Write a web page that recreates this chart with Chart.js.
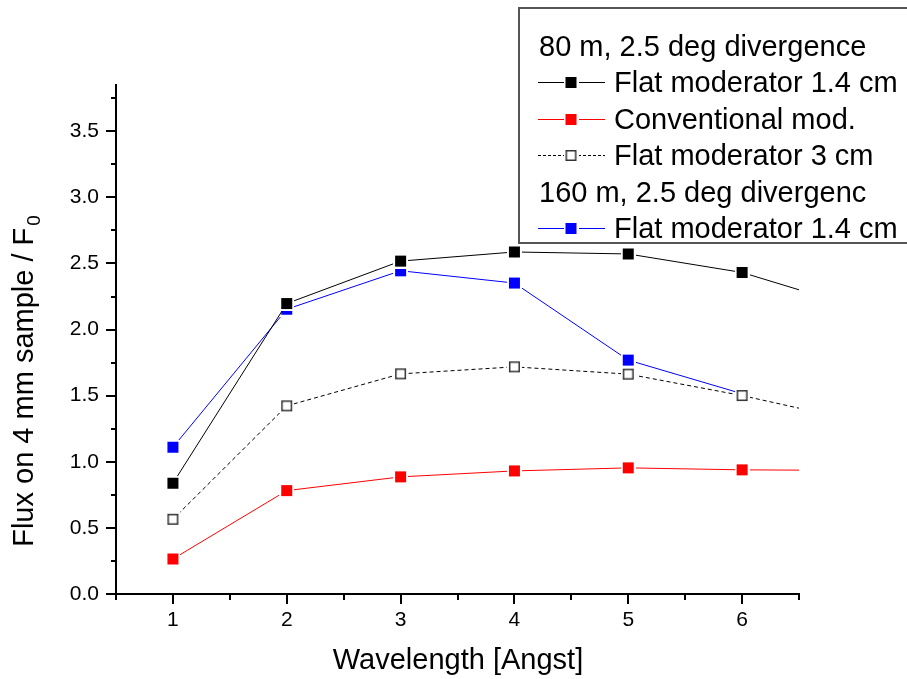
<!DOCTYPE html>
<html>
<head>
<meta charset="utf-8">
<script src="https://cdn.jsdelivr.net/npm/chart.js@4/dist/chart.umd.min.js"></script>
<style>
  body { margin: 0; background: #fff; }
</style>
</head>
<body>
<canvas id="fluxChart" width="907" height="679"></canvas>
<script>
// wavelength points (last one lies beyond the axis and gets clipped)
const wavelength = [1, 2, 3, 4, 5, 6, 7];
const flat14_80 = [0.838, 2.197, 2.518, 2.587, 2.572, 2.432, 2.17];
const conventional = [0.265, 0.782, 0.886, 0.931, 0.954, 0.939, 0.935];
const flat3_80 = [0.565, 1.423, 1.665, 1.718, 1.663, 1.501, 1.31];
const flat14_160 = [1.110, 2.154, 2.445, 2.352, 1.769, 1.515];

const xTicks = [1, 2, 3, 4, 5, 6];
const xMinor = [0.5, 1.5, 2.5, 3.5, 4.5, 5.5, 6.5];
const yTicks = [0, 0.5, 1.0, 1.5, 2.0, 2.5, 3.0, 3.5];
const yMinor = [0.25, 0.75, 1.25, 1.75, 2.25, 2.75, 3.25, 3.75];

const FONT = 'Liberation Sans, Arial, sans-serif';

function makeMarker(color, hollow) {
    const c = document.createElement('canvas');
    c.width = 15; c.height = 15;
    const g = c.getContext('2d');
    g.fillStyle = '#fff';
    g.fillRect(0, 0, 15, 15);
    if (hollow) {
        g.strokeStyle = '#333';
        g.lineWidth = 1.5;
        g.strokeRect(2.75, 2.75, 9.5, 9.5);
    } else {
        g.fillStyle = color;
        g.fillRect(2, 2, 11, 11);
    }
    return c;
}

const mkBlack = makeMarker('#000', false);
const mkRed = makeMarker('#ff0000', false);
const mkHollow = makeMarker('#333', true);
const mkBlue = makeMarker('#0000ff', false);

function pts(ys) {
    return ys.map((v, i) => ({ x: wavelength[i], y: v }));
}

const legendRows = [
    { text: '80 m, 2.5 deg divergence' },
    { text: 'Flat moderator 1.4 cm', color: '#000', marker: mkBlack },
    { text: 'Conventional mod.', color: '#ff0000', marker: mkRed },
    { text: 'Flat moderator 3 cm', color: '#000', marker: mkHollow, dash: [3, 2] },
    { text: '160 m, 2.5 deg divergenc' },
    { text: 'Flat moderator 1.4 cm', color: '#0000ff', marker: mkBlue }
];

const extras = {
    id: 'extras',
    afterDraw(chart) {
        const ctx = chart.ctx;
        const xs = chart.scales.x, ys = chart.scales.y;
        const area = chart.chartArea;
        ctx.save();
        // minor ticks
        ctx.strokeStyle = '#000';
        ctx.lineWidth = 2;
        ctx.beginPath();
        yMinor.forEach(v => {
            const p = Math.round(ys.getPixelForValue(v));
            ctx.moveTo(area.left, p);
            ctx.lineTo(area.left - 5, p);
        });
        xMinor.forEach(v => {
            const p = Math.round(xs.getPixelForValue(v));
            ctx.moveTo(p, area.bottom);
            ctx.lineTo(p, area.bottom + 6);
        });
        ctx.stroke();

        // axis titles
        ctx.fillStyle = '#000';
        ctx.font = '29px ' + FONT;
        ctx.textAlign = 'center';
        ctx.textBaseline = 'alphabetic';
        ctx.fillText('Wavelength [Angst]', 458, 669);

        ctx.save();
        ctx.translate(33, 381);
        ctx.rotate(-Math.PI / 2);
        const main = 'Flux on 4 mm sample / F';
        const w = ctx.measureText(main).width;
        ctx.font = '19px ' + FONT;
        const ws = ctx.measureText('0').width;
        const start = -(w + ws + 2) / 2;
        ctx.font = '29px ' + FONT;
        ctx.textAlign = 'left';
        ctx.fillText(main, start, 0);
        ctx.font = '19px ' + FONT;
        ctx.fillText('0', start + w + 2, 7);
        ctx.restore();

        // legend box
        ctx.fillStyle = '#fff';
        ctx.fillRect(519, 8, 400, 235);
        ctx.strokeStyle = '#555';
        ctx.lineWidth = 2;
        ctx.strokeRect(519, 8, 400, 235);
        ctx.font = '29px ' + FONT;
        ctx.textAlign = 'left';
        legendRows.forEach((r, i) => {
            const cy = 46 + i * 36.4;
            ctx.fillStyle = '#000';
            if (!r.marker) {
                ctx.fillText(r.text, 539, cy + 10);
                return;
            }
            ctx.strokeStyle = r.color;
            ctx.lineWidth = 1;
            ctx.setLineDash(r.dash || []);
            ctx.beginPath();
            ctx.moveTo(538, Math.round(cy) + 0.5);
            ctx.lineTo(605, Math.round(cy) + 0.5);
            ctx.stroke();
            ctx.setLineDash([]);
            ctx.drawImage(r.marker, 571 - 7.5, Math.round(cy) - 7);
            ctx.fillText(r.text, 614, cy + 10);
        });
        ctx.restore();
    }
};

new Chart(document.getElementById('fluxChart'), {
    type: 'line',
    data: {
        datasets: [
            { label: 'Flat moderator 1.4 cm', data: pts(flat14_80), borderColor: '#000', pointStyle: mkBlack, order: 0 },
            { label: 'Flat moderator 3 cm', data: pts(flat3_80), borderColor: '#000', borderDash: [4, 3], pointStyle: mkHollow, order: 1 },
            { label: 'Conventional mod.', data: pts(conventional), borderColor: '#ff0000', pointStyle: mkRed, order: 2 },
            { label: 'Flat moderator 1.4 cm (160 m)', data: pts(flat14_160), borderColor: '#0000ff', pointStyle: mkBlue, order: 3 }
        ]
    },
    options: {
        responsive: false,
        animation: false,
        layout: { padding: { top: 85, right: 108, left: 0, bottom: 0 } },
        elements: {
            line: { borderWidth: 1, tension: 0, fill: false },
            point: { radius: 7 }
        },
        plugins: { legend: { display: false }, tooltip: { enabled: false } },
        scales: {
            x: {
                type: 'linear',
                min: 0.5,
                max: 6.5,
                afterBuildTicks: s => { s.ticks = xTicks.map(v => ({ value: v })); },
                afterFit: s => { s.height = 85; },
                grid: { drawOnChartArea: false, drawTicks: true, tickLength: 10, color: '#000', lineWidth: 2 },
                border: { display: true, color: '#000', width: 2 },
                ticks: { color: '#000', font: { family: FONT, size: 21 }, padding: 4, maxRotation: 0,
                         callback: v => String(v) }
            },
            y: {
                type: 'linear',
                min: 0,
                max: 3.85,
                afterBuildTicks: s => { s.ticks = yTicks.map(v => ({ value: v })); },
                afterFit: s => { s.width = 116; },
                grid: { drawOnChartArea: false, drawTicks: true, tickLength: 10, color: '#000', lineWidth: 2 },
                border: { display: true, color: '#000', width: 2 },
                ticks: { color: '#000', font: { family: FONT, size: 21 }, padding: 7,
                         callback: v => v.toFixed(1) }
            }
        }
    },
    plugins: [extras]
});
</script>
</body>
</html>
